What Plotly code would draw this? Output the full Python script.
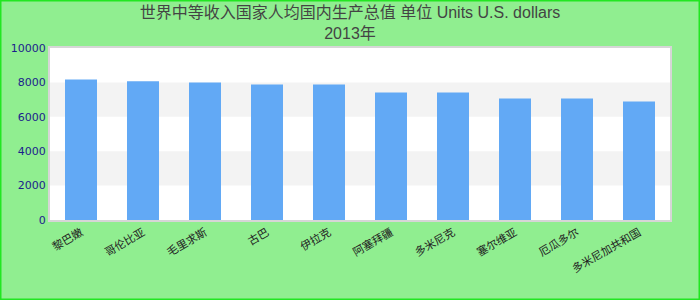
import plotly.graph_objects as go

categories = ["黎巴嫩", "哥伦比亚", "毛里求斯", "古巴", "伊拉克", "阿塞拜疆", "多米尼克", "塞尔维亚", "厄瓜多尔", "多米尼加共和国"]
values = [8175, 8060, 8000, 7885, 7885, 7420, 7420, 7070, 7070, 6895]
title_line1 = "世界中等收入国家人均国内生产总值 单位 Units U.S. dollars"
title_line2 = "2013年"
band_ranges = [(2000, 4000), (6000, 8000)]

L, R, T, B = 50, 30, 48, 80
W, H = 700, 300
pw, ph = W - L - R, H - T - B

fig = go.Figure(go.Bar(x=categories, y=values, marker_color="#62a9f5", marker_line_width=0))

shapes = []
for y0, y1 in band_ranges:
    shapes.append(dict(type="rect", xref="paper", yref="y", x0=0, x1=1, y0=y0, y1=y1,
                       fillcolor="#f3f3f3", line_width=0, layer="below"))
shapes.append(dict(type="rect", xref="paper", yref="paper",
                   x0=-L / pw + 0.5 / pw, x1=1 + R / pw - 0.5 / pw,
                   y0=-B / ph + 0.5 / ph, y1=1 + T / ph - 0.5 / ph,
                   line=dict(color="#22e622", width=2), fillcolor="rgba(0,0,0,0)"))

fig.update_layout(
    width=W, height=H,
    margin=dict(l=L, r=R, t=T, b=B),
    paper_bgcolor="#90ee90",
    plot_bgcolor="#ffffff",
    bargap=0.484,
    shapes=shapes,
    showlegend=False,
    title=dict(text=title_line1 + "<br>" + title_line2, x=0.5, xanchor="center",
               y=0.94, yanchor="top",
               font=dict(family="Liberation Sans, Arial, Noto Sans CJK SC", size=16, color="#444444")),
    font=dict(family="DejaVu Sans, Noto Sans CJK SC"),
)
fig.update_xaxes(showgrid=False, tickangle=-30, tickfont=dict(size=11, color="#222222"),
                 showline=True, mirror=True, linecolor="#d6d6d6", linewidth=2, ticks="")
fig.update_yaxes(range=[0, 10000], dtick=2000, tickformat="d", showgrid=False, zeroline=False,
                 tickfont=dict(size=11, color="#1c1c8c"),
                 showline=True, mirror=True, linecolor="#d6d6d6", linewidth=2, ticks="")

fig.write_html("out.html")
